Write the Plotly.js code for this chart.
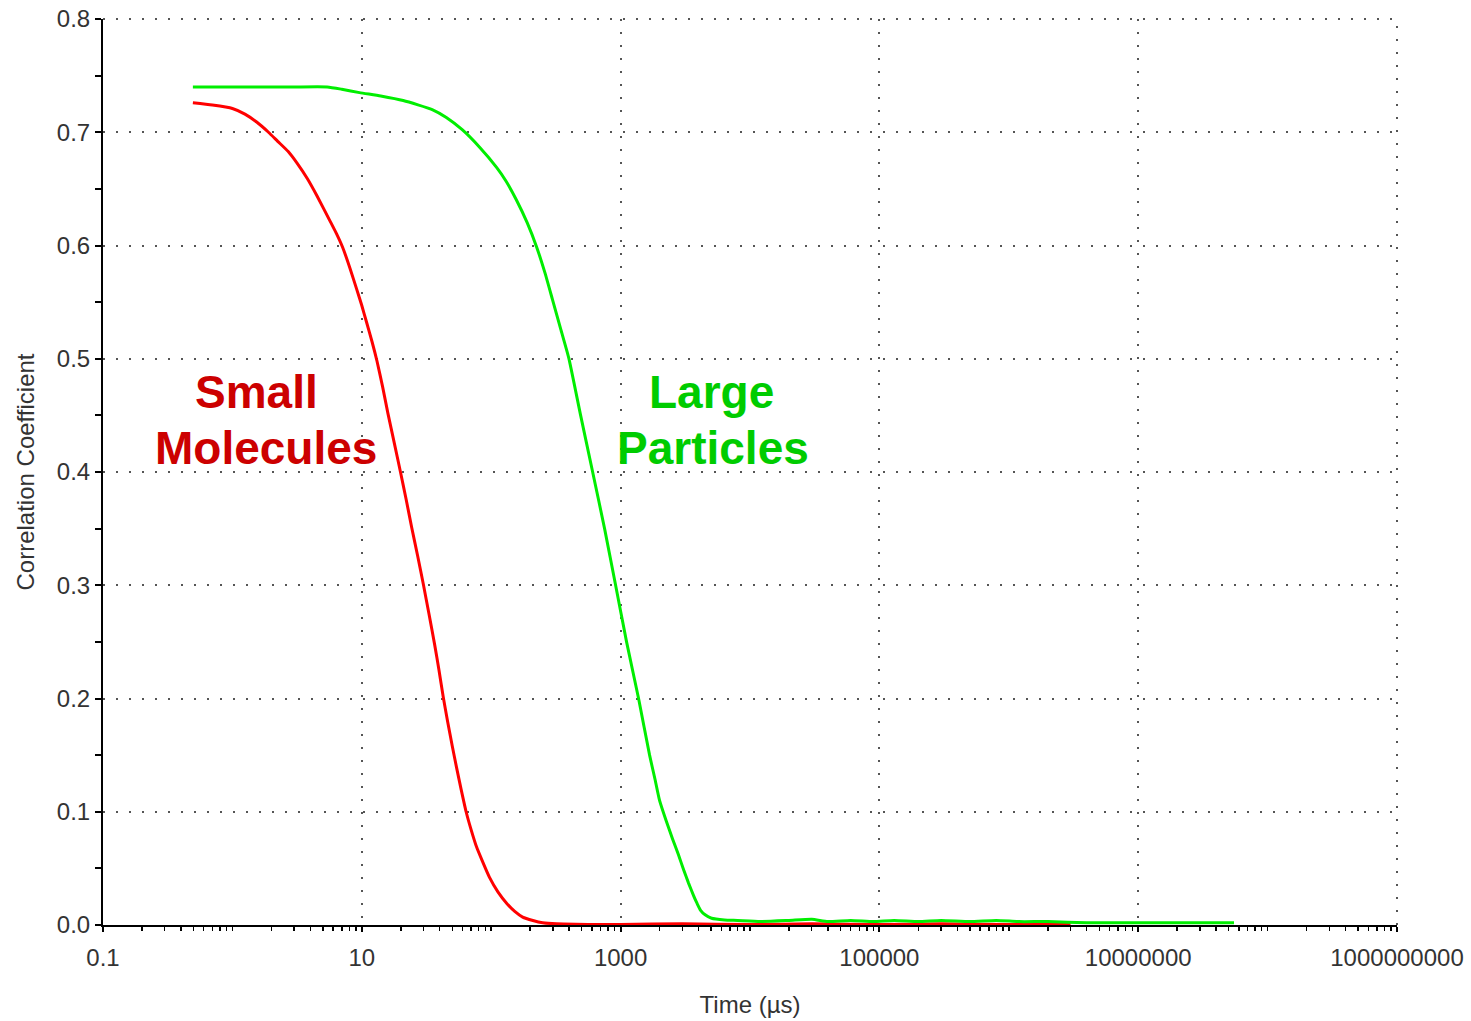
<!DOCTYPE html>
<html>
<head>
<meta charset="utf-8">
<script src="https://cdn.plot.ly/plotly-3.0.1.min.js"></script>
<style>html,body{margin:0;padding:0;background:#fff;}#chart{width:1471px;height:1021px;}</style>
</head>
<body>
<div id="chart"></div>
<script>
// Small molecules (red)
var smallTime = [0.495, 0.7, 1.0, 1.25, 1.54, 1.9, 2.24, 2.7, 3.15, 3.8, 4.5, 5.66, 6.4, 7.13, 8.1, 9.15, 10.0, 10.9, 12.0, 13.1, 14.5, 15.9, 17.8, 19.9, 22.0, 24.3, 27.0, 30.0, 33.0, 36.5, 39.5, 42.5, 46.0, 50.0, 54.0, 58.5, 64.0, 70.0, 77.0, 85.0, 97.0, 113, 132, 152, 175, 210, 250, 320, 450, 700, 1000, 3000, 10000, 30000, 100000, 300000, 1000000, 3000000];
var smallCorr = [0.726, 0.724, 0.721, 0.716, 0.709, 0.700, 0.692, 0.683, 0.673, 0.659, 0.644, 0.622, 0.610, 0.598, 0.580, 0.561, 0.547, 0.532, 0.515, 0.498, 0.475, 0.452, 0.426, 0.400, 0.376, 0.351, 0.326, 0.300, 0.275, 0.248, 0.225, 0.202, 0.180, 0.158, 0.139, 0.120, 0.100, 0.084, 0.069, 0.057, 0.042, 0.029, 0.019, 0.012, 0.007, 0.004, 0.002, 0.001, 0.0006, 0.0005, 0.0005, 0.001, 0.0005, 0.001, 0.0005, 0.001, 0.0005, 0.0005];
// Large particles (green)
var largeTime = [0.495, 1, 2, 3, 5.4, 7, 9.6, 14, 20.9, 35, 45, 60, 81, 110, 130, 157, 190, 224, 260, 298, 345, 397, 491, 608, 752, 915, 1112, 1377, 1675, 1850, 2000, 2250, 2521, 2800, 3064, 3350, 3663, 3900, 4150, 4500, 5047, 6353, 8000, 12000, 20000, 30000, 40000, 60000, 90000, 130000, 200000, 300000, 500000, 800000, 1200000, 2000000, 4000000, 8000000, 15000000, 30000000, 55000000];
var largeCorr = [0.740, 0.740, 0.740, 0.740, 0.740, 0.738, 0.735, 0.732, 0.728, 0.720, 0.713, 0.702, 0.687, 0.669, 0.657, 0.640, 0.620, 0.599, 0.576, 0.552, 0.526, 0.501, 0.450, 0.400, 0.350, 0.300, 0.250, 0.200, 0.150, 0.128, 0.110, 0.092, 0.076, 0.062, 0.049, 0.037, 0.026, 0.019, 0.013, 0.009, 0.006, 0.0045, 0.004, 0.003, 0.004, 0.005, 0.003, 0.004, 0.003, 0.004, 0.003, 0.004, 0.003, 0.004, 0.003, 0.003, 0.002, 0.002, 0.002, 0.002, 0.002];
// Axis tick labels
var xTickVals = [0.1, 10, 1000, 100000, 10000000, 1000000000];
var xTickText = ['0.1', '10', '1000', '100000', '10000000', '1000000000'];
var xDecades = [0.1, 1, 10, 100, 1000, 10000, 100000, 1000000, 10000000, 100000000, 1000000000];

var font = 'Liberation Sans, Arial, sans-serif';
var traces = [
  {x: smallTime, y: smallCorr, type: 'scatter', mode: 'lines', name: 'Small Molecules',
   line: {color: '#ff0000', width: 3, shape: 'spline', smoothing: 0.5}},
  {x: largeTime, y: largeCorr, type: 'scatter', mode: 'lines', name: 'Large Particles',
   line: {color: '#00ee00', width: 3, shape: 'spline', smoothing: 0.5}}
];
var xRange = [-1, 9];
var yRange = [0, 0.8];
var gridColor = '#555555';
var gridDash = '2px,11px';
var gridStyle = {showgrid: true, gridcolor: gridColor, gridwidth: 2, griddash: gridDash};
var layout = {
  width: 1471, height: 1021,
  margin: {l: 103, r: 74, t: 19, b: 96},
  paper_bgcolor: '#ffffff', plot_bgcolor: '#ffffff',
  showlegend: false,
  font: {family: font, color: '#333333'},
  xaxis: Object.assign({
    type: 'log', range: xRange,
    tickvals: xTickVals, ticktext: xTickText,
    tickfont: {size: 24, color: '#333333'}, ticklabelstandoff: 5,
    showline: true, linecolor: '#000000', linewidth: 2,
    ticks: 'outside', ticklen: 5, tickwidth: 2, tickcolor: '#000000',
    minor: {dtick: 'D1', ticks: 'outside', ticklen: 4, tickwidth: 1.5, tickcolor: '#000000', showgrid: false},
    zeroline: false, automargin: false,
    title: {text: 'Time (µs)', font: {size: 24, color: '#333333'}, standoff: 26}
  }, gridStyle),
  xaxis2: {
    type: 'log', range: xRange, overlaying: 'x', anchor: 'y', side: 'bottom',
    tickvals: xDecades, showticklabels: false, showgrid: false, showline: false, zeroline: false,
    ticks: 'inside', ticklen: 5, tickwidth: 2, tickcolor: '#000000',
    minor: {dtick: 'D1', ticks: 'inside', ticklen: 4, tickwidth: 1.5, tickcolor: '#000000', showgrid: false}
  },
  yaxis: Object.assign({
    range: yRange, dtick: 0.1, tick0: 0, tickformat: '.1f',
    tickfont: {size: 24, color: '#333333'},
    showline: true, linecolor: '#000000', linewidth: 2,
    ticks: 'outside', ticklen: 6, tickwidth: 2, tickcolor: '#000000',
    minor: {dtick: 0.05, ticks: 'outside', ticklen: 6, tickwidth: 2, tickcolor: '#000000', showgrid: false},
    zeroline: false, automargin: false,
    title: {text: 'Correlation Coefficient', font: {size: 24, color: '#333333'}, standoff: 15}
  }, gridStyle),
  yaxis2: {
    range: yRange, overlaying: 'y', anchor: 'x', side: 'left',
    dtick: 0.05, tick0: 0, showticklabels: false, showgrid: false, showline: false, zeroline: false,
    ticks: 'inside', ticklen: 6, tickwidth: 2, tickcolor: '#000000'
  },
  shapes: [
    {type: 'line', xref: 'paper', yref: 'paper', x0: 0, x1: 1, y0: 1, y1: 1,
     line: {color: gridColor, width: 2, dash: gridDash}, layer: 'below'},
    {type: 'line', xref: 'paper', yref: 'paper', x0: 1, x1: 1, y0: 0, y1: 1,
     line: {color: gridColor, width: 2, dash: gridDash}, layer: 'below'}
  ],
  annotations: [
    {xref: 'paper', yref: 'paper', x: 0.119, y: 0.588, text: '<b>Small</b>', showarrow: false,
     xanchor: 'center', yanchor: 'middle', font: {family: font, size: 46, color: '#cc0000'}},
    {xref: 'paper', yref: 'paper', x: 0.126, y: 0.527, text: '<b>Molecules</b>', showarrow: false,
     xanchor: 'center', yanchor: 'middle', font: {family: font, size: 46, color: '#cc0000'}},
    {xref: 'paper', yref: 'paper', x: 0.4706, y: 0.588, text: '<b>Large</b>', showarrow: false,
     xanchor: 'center', yanchor: 'middle', font: {family: font, size: 46, color: '#00cc00'}},
    {xref: 'paper', yref: 'paper', x: 0.4714, y: 0.527, text: '<b>Particles</b>', showarrow: false,
     xanchor: 'center', yanchor: 'middle', font: {family: font, size: 46, color: '#00cc00'}}
  ]
};
Plotly.newPlot('chart', traces, layout, {displayModeBar: false, staticPlot: true});
</script>
</body>
</html>
